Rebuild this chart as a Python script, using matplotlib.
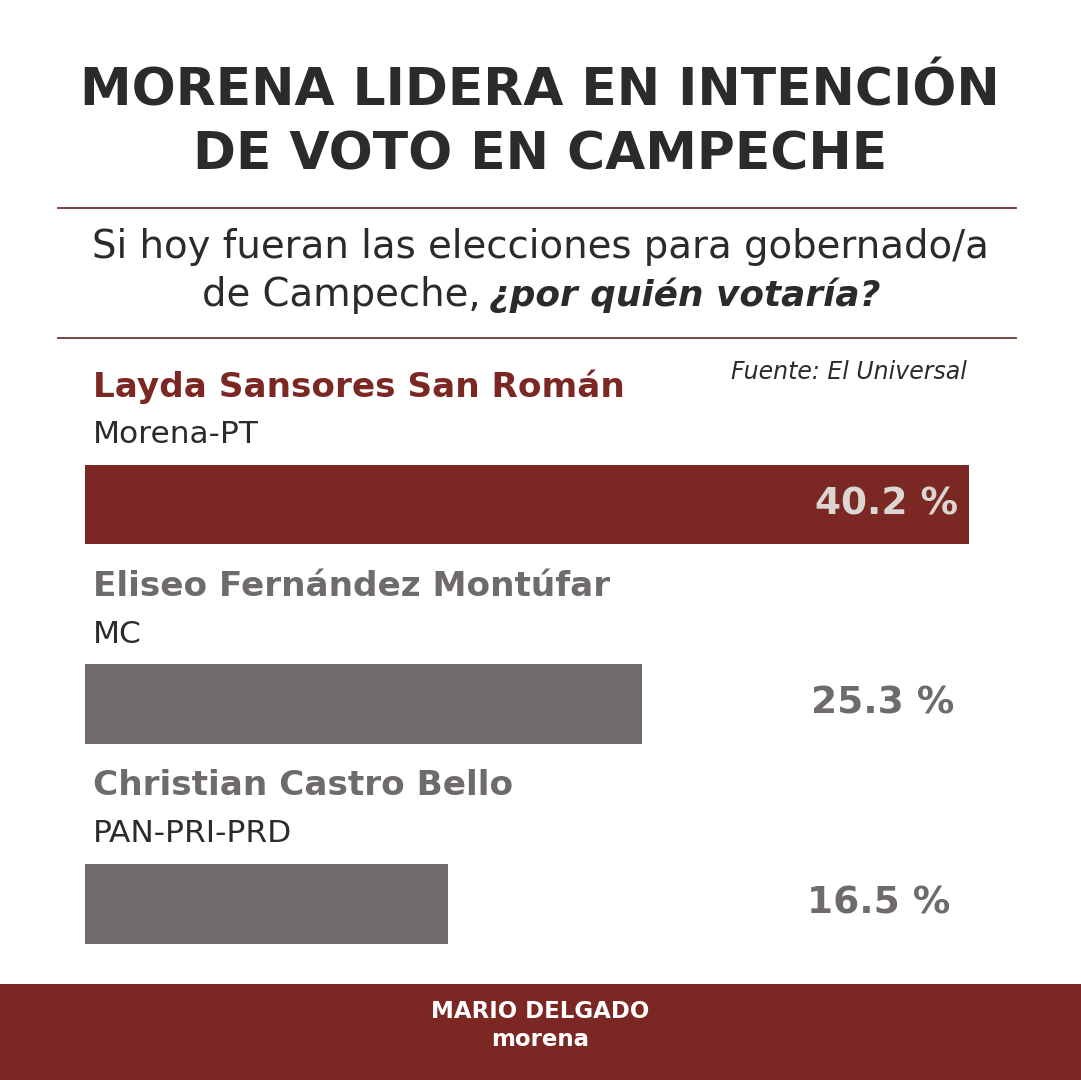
import matplotlib
matplotlib.use("Agg")
import matplotlib.pyplot as plt
import matplotlib.transforms as mtrans

# datos
candidatos = ["Layda Sansores San Román", "Eliseo Fernández Montúfar", "Christian Castro Bello"]
partidos = ["Morena-PT", "MC", "PAN-PRI-PRD"]
porcentajes = [40.2, 25.3, 16.5]
etiquetas = ["40.2 %", "25.3 %", "16.5 %"]

rojo = "#7b2824"
gris = "#6e6a6d"
negro = "#2b2b2b"
W, H = 1081, 1080
fuente = ["DejaVu Sans"]

fig = plt.figure(figsize=(W / 100, H / 100), dpi=100)
fig.patch.set_facecolor("white")

# capa de fondo en pixeles para los textos
bg = fig.add_axes([0, 0, 1, 1])
bg.set_xlim(0, W)
bg.set_ylim(H, 0)
bg.axis("off")

titulo = dict(family=fuente, weight="bold", color=negro, fontsize=37.4,
              ha="center", va="center")
bg.text(540, 92, "MORENA LIDERA EN INTENCIÓN", **titulo)
bg.text(540, 155, "DE VOTO EN CAMPECHE", **titulo)

bg.plot([58, 1016], [208, 208], color="#6e3535", lw=1.3)
bg.plot([58, 1016], [338, 338], color="#6e3535", lw=1.3)

sub = dict(family=fuente, color=negro, va="center")
bg.text(540, 247, "Si hoy fueran las elecciones para gobernado/a", ha="center", fontsize=27.8, **sub)
bg.text(481, 295, "de Campeche,", ha="right", fontsize=27.8, **sub)
bg.text(489, 295, "¿por quién votaría?", ha="left", weight="bold", style="italic",
        fontsize=25.8, **sub)

bg.text(967, 372, "Fuente: El Universal", ha="right", va="center", style="italic",
        family=fuente, fontsize=17, color=negro)

# pie
bg.add_patch(plt.Rectangle((0, 984), W, H - 984, color=rojo, lw=0))
bg.text(540, 1012, "MARIO DELGADO", ha="center", va="center", color="white", weight="bold",
        family=fuente, fontsize=16.5)
bg.text(540, 1040, "morena", ha="center", va="center", color="white", weight="bold",
        family=fuente, fontsize=16.5)

# barras
escala = 22.0  # px por punto porcentual
x0, x1 = 85, 990
y_top, y_bot = 464.5, 943.5
ax = fig.add_axes([x0 / W, 1 - y_bot / H, (x1 - x0) / W, (y_bot - y_top) / H])
ax.set_xlim(0, (x1 - x0) / escala)
ax.set_ylim(2.2, -0.2)
ax.axis("off")

colores = [rojo, gris, gris]
posiciones = list(range(len(porcentajes)))
ax.barh(posiciones, porcentajes, height=0.4, color=colores, lw=0)

trans = mtrans.blended_transform_factory(bg.transData, ax.transData)
color_val = ["#dcd6d2", gris, gris]
for i, (nom, par, et) in enumerate(zip(candidatos, partidos, etiquetas)):
    ax.text(93, i - 0.59, nom, transform=trans, ha="left", va="center",
            family=fuente, weight="bold", fontsize=24.7,
            color=rojo if i == 0 else gris)
    ax.text(93, i - 0.35, par, transform=trans, ha="left", va="center",
            family=fuente, fontsize=22.5, color=negro)
    ax.text(958 - 4 * i, i, et, transform=trans, ha="right", va="center",
            family=fuente, weight="bold", fontsize=27, color=color_val[i])

fig.savefig("out.png", dpi=100)
